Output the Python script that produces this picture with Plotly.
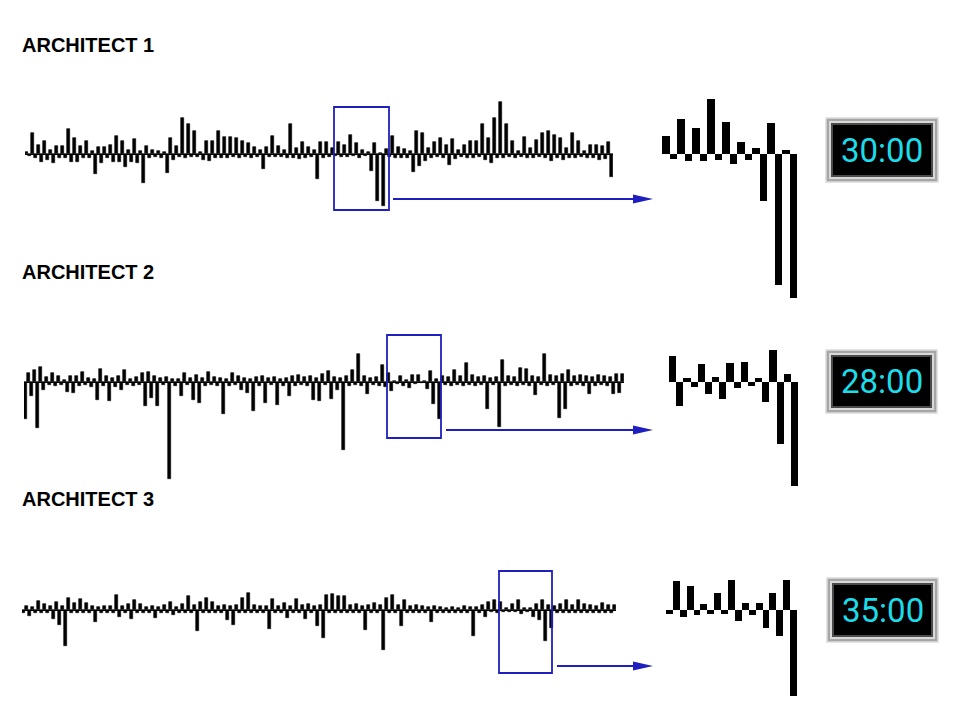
"""
Architect comparison: main bar traces, zoomed window and timer display.
"""

import plotly.graph_objects as go

W, H = 964, 709

# ---- data (bar heights, positive = up, negative = down) ----
architect1 = [
    2.3, -2.0, 21.7, -4.0, 9.3, -7.3, 13.3, -5.7, 4.3, -8.3, 8.3, -4.0, 8.7, -4.0, 25.3, -7.3, 16.7, -7.3, 8.7, -4.0,
    13.3, -4.0, 3.7, -19.7, 7.7, -8.3, 7.0, -4.0, 9.3, -7.3, 18.3, -7.3, 13.3, -13.0, 4.3, -7.3, 15.3, -8.3, 3.7, -28.3,
    8.7, -4.0, 4.3, -2.3, 3.3, -3.3, 2.7, -19.0, 16.7, -5.7, 8.7, -2.3, 36.7, -4.0, 30.0, -2.3, 23.3, -2.3, 2.7, -5.7,
    13.3, -6.7, 13.3, -4.0, 23.3, -4.0, 17.7, -4.0, 17.7, -2.3, 16.0, -4.0, 13.3, -2.3, 11.0, -4.0, 7.7, -2.3, 4.3, -14.7,
    7.0, -2.3, 18.3, -2.3, 8.7, -2.3, 4.3, -4.0, 30.3, -3.3, 6.7, -5.0, 12.7, -4.0, 7.7, -2.3, 4.3, -25.0, 12.7, -4.0,
    12.7, -2.3, 6.4, -1.8, 12.5, -2.5, 9.3, -2.5, 19.6, -2.1, 11.4, -3.6, 4.3, -2.1, 2.1, -16.8, 11.1, -46.8, 1.4, -51.4,
    5.0, -2.3, 18.3, -4.0, 7.0, -4.0, 5.0, -3.3, 3.3, -17.3, 23.7, -11.7, 21.0, -6.7, 6.0, -4.0, 12.7, -2.3, 16.0, -3.3,
    9.3, -10.7, 15.0, -5.0, 4.3, -2.3, 9.3, -4.0, 13.7, -4.0, 13.7, -2.3, 30.0, -5.7, 16.0, -8.3, 36.0, -4.0, 52.0, -4.0,
    30.0, -2.3, 13.7, -3.3, 3.7, -2.3, 17.7, -4.0, 6.0, -4.0, 14.3, -2.3, 21.0, -3.3, 23.7, -6.7, 19.3, -4.0, 16.0, -5.7,
    6.0, -4.0, 21.7, -3.3, 13.7, -2.3, 3.7, -3.3, 9.3, -4.0, 9.3, -5.7, 8.3, -5.0, 12.7, -23.0,
]

architect2 = [
    -37, 9, -14, 12, -46, 15, -8, 4.7, -3, 8.7,
    -4, 6.3, -3, 2.3, -10.3, 5.7, -11, 5.7, -4, 9.7,
    -3, 4, -5, 3, -18, 13, -4, 6, -19, 4,
    -5, 6, -8, 11.7, -3, 3, -4, 5, -3, 9,
    -24, 9.7, -16, 6, -24, 4, -3, 5, -97, 3,
    -4, 3.5, -14, 9, -3, 4, -18, 7, -21, 4,
    -4, 9.7, -3, 5, -4, 4, -32, 3, -4, 9,
    -3, 6, -8, 4, -11, 3, -29, 5, -4, 6,
    -21, 4, -3, 5, -23, 3, -4, 4, -14, 6,
    -4, 7, -3, 5, -4, 6, -18, 4, -19, 8,
    -3, 10.7, -16.7, 5, -8, 4, -68, 6, -4, 12,
    -3, 28, -4, 6, -12, 4, -3, 5, -4, 16.7,
    -5, 9.2, -8.6, 1.2, -2.0, 6.3, -4.4, 1.8, -6.0, 6.8,
    -2.4, 7.0, -1.4, 1.2, -7.3, 11.3, -22.4, 2.7, -37.1, 6,
    -3, 5, -4, 12, -3, 6, -4, 19, -3, 7,
    -4, 5, -3, 6, -27, 4, -3, 5, -45, 22,
    -4, 6, -3, 5, -4, 14, -3, 13, -4, 6,
    -13, 5, -3, 28, -4, 7, -3, 6, -36, 8,
    -27, 12, -4, 6, -3, 7, -4, 6, -12, 5,
    -4, 7, -3, 6, -4, 5, -12, 8, -11, 8,
]

architect3 = [
    -3, 4, -6, 3, -2.5, 9.3, -3, 6.7, -2.5, 4,
    -8.3, 8.3, -14.3, 4, -36, 12.3, -3, 7.3, -3, 11,
    -2.5, 7.3, -3, 4, -11.7, 3, -2.5, 4, -3, 4,
    -2.5, 15, -6.7, 4, -3, 6, -9, 10, -2.5, 6.7,
    -3, 3, -2.5, 4, -7.3, 3, -2.5, 5, -3, 8.3,
    -5, 3, -2.5, 6.7, -3, 14, -3, 5, -20.7, 8.3,
    -3, 12.7, -2.5, 8.3, -3, 4, -2.5, 5, -9.3, 4,
    -14.3, 5, -3, 12.7, -2.5, 17.7, -3, 5, -2.5, 4,
    -3, 4, -18.3, 11.7, -2.5, 4, -3, 7.3, -7.3, 4,
    -2.5, 11.7, -3, 5, -8.3, 6, -3, 4, -16, 5,
    -28, 15.7, -3, 16, -2.5, 14, -3, 14.7, -2.5, 5,
    -3, 6, -2.5, 4, -19.3, 5, -3, 7, -2.5, 5,
    -39.3, 12.3, -3, 15.7, -2.5, 5, -15.3, 10, -3, 4,
    -2.5, 5, -3, 4, -2.5, 3, -12, 4, -2.5, 3,
    -3, 2.5, -2.5, 3, -3, 2.5, -2.5, 4, -3, 3,
    -25.3, 3, -3, 5, -6.7, 8,
    -1.5, 10.4, -2.4, 8.6, -1.8, 2.0, -1.5, 6.2, -1.5, 10.7,
    -3.9, 2.4, -1.8, 2.4, -6.5, 6.0, -9.2, 10.7, -30.7,
    5, -17.7, 4, -3, 6, -2.5, 10.7, -3, 5, -2.5,
    10, -3, 6, -2.5, 5, -3, 4, -2.5, 7.3, -3, 5, -2.5, 5.7,
]

titles = ["ARCHITECT 1", "ARCHITECT 2", "ARCHITECT 3"]
timers = ["30:00", "28:00", "35:00"]
zoom_windows = [(102, 120), (121, 139), (156, 175)]  # slice shown in the zoom panel

# ---- layout (pixel boxes) ----
rows = [
    dict(data=architect1, main=(25, 613, 90, 220, 154.3), zoom=(662, 797, 90, 305, 154.0),
         box=(334, 107, 389, 210), arrow_y=199, arrow_x0=393, title_y=45,
         clock=(826, 118, 938, 182)),
    dict(data=architect2, main=(24, 624, 330, 490, 382.0), zoom=(669, 798, 340, 495, 381.7),
         box=(387, 335, 441, 438), arrow_y=430, arrow_x0=446, title_y=272,
         clock=(826, 350, 937, 413)),
    dict(data=architect3, main=(22, 616, 560, 660, 610.3), zoom=(666, 797, 570, 700, 610.0),
         box=(499, 571, 552, 673), arrow_y=666, arrow_x0=557, title_y=499,
         clock=(827, 578, 938, 642)),
]
ZOOM_SCALE = 2.8  # px per unit in the zoom panels (main panels: 1 px per unit)
BLUE = "#1f1fbf"


def px(x):
    return x / W


def py(y):
    return 1 - y / H


fig = go.Figure()
layout = {}
shapes = []
annotations = []

for r, row in enumerate(rows):
    vals = row["data"]
    n = len(vals)
    x0, x1, y0, y1, base = row["main"]
    ax_main = 2 * r + 1
    ax_zoom = 2 * r + 2

    fig.add_trace(go.Bar(
        x=list(range(n)), y=vals, width=1,
        marker=dict(color="black", line=dict(width=0.6, color="black")),
        xaxis=f"x{ax_main}", yaxis=f"y{ax_main}", showlegend=False, hoverinfo="skip",
    ))
    layout[f"xaxis{ax_main}"] = dict(domain=[px(x0), px(x1)], range=[-0.5, n - 0.5], visible=False,
                                     anchor=f"y{ax_main}")
    layout[f"yaxis{ax_main}"] = dict(domain=[py(y1), py(y0)], range=[-(y1 - base), base - y0],
                                     anchor=f"x{ax_main}", showgrid=False, showticklabels=False,
                                     zeroline=True, zerolinecolor="black", zerolinewidth=1)

    s0, s1 = zoom_windows[r]
    zvals = vals[s0:s1]
    zx0, zx1, zy0, zy1, zbase = row["zoom"]
    fig.add_trace(go.Bar(
        x=list(range(len(zvals))), y=zvals, width=1,
        marker=dict(color="black", line=dict(width=0)),
        xaxis=f"x{ax_zoom}", yaxis=f"y{ax_zoom}", showlegend=False, hoverinfo="skip",
    ))
    layout[f"xaxis{ax_zoom}"] = dict(domain=[px(zx0), px(zx1)], range=[-0.5, len(zvals) - 0.5],
                                     visible=False, anchor=f"y{ax_zoom}")
    layout[f"yaxis{ax_zoom}"] = dict(domain=[py(zy1), py(zy0)],
                                     range=[-(zy1 - zbase) / ZOOM_SCALE, (zbase - zy0) / ZOOM_SCALE],
                                     visible=False, anchor=f"x{ax_zoom}")

    # blue selection box
    bx0, by0, bx1, by1 = row["box"]
    shapes.append(dict(type="rect", xref="paper", yref="paper",
                       x0=px(bx0), x1=px(bx1), y0=py(by1), y1=py(by0),
                       line=dict(color=BLUE, width=1.8)))
    # arrow to zoom panel
    ay = row["arrow_y"]
    shapes.append(dict(type="line", xref="paper", yref="paper",
                       x0=px(row["arrow_x0"]), x1=px(636), y0=py(ay), y1=py(ay),
                       line=dict(color=BLUE, width=2)))
    shapes.append(dict(type="path", xref="paper", yref="paper",
                       path=f"M {px(633)} {py(ay - 4.5)} L {px(653)} {py(ay)} L {px(633)} {py(ay + 4.5)} Z",
                       fillcolor=BLUE, line=dict(width=0)))

    # timer
    cx0, cy0, cx1, cy1 = row["clock"]
    for inset, fill, lc in [(0, "#a6a6a6", "#dcdcdc"), (3, "#d9d9d9", None),
                            (5, "#4a4a4a", None), (7, "#000000", None)]:
        shapes.append(dict(type="rect", xref="paper", yref="paper",
                           x0=px(cx0 + inset), x1=px(cx1 - inset),
                           y0=py(cy1 - inset), y1=py(cy0 + inset),
                           fillcolor=fill, line=dict(color=lc or fill, width=1.5 if lc else 0)))
    annotations.append(dict(text=timers[r], xref="paper", yref="paper",
                            x=px((cx0 + cx1) / 2), y=py((cy0 + cy1) / 2),
                            xanchor="center", yanchor="middle", showarrow=False,
                            font=dict(family="Roboto", size=33, color="#1cdcea")))

    annotations.append(dict(text=f"<b>{titles[r]}</b>", xref="paper", yref="paper",
                            x=px(20), y=py(row["title_y"]), xanchor="left", yanchor="middle",
                            showarrow=False,
                            font=dict(family="Liberation Sans, Arial", size=20, color="black")))

fig.update_layout(
    width=W, height=H,
    margin=dict(l=0, r=0, t=0, b=0),
    paper_bgcolor="white", plot_bgcolor="rgba(0,0,0,0)",
    bargap=0, showlegend=False,
    shapes=shapes, annotations=annotations,
    **layout,
)

# drop the default page margin so the figure sits at the window's top-left
fig.write_html("out.html", config={"displayModeBar": False},
               post_script="document.body.style.margin='0';")
